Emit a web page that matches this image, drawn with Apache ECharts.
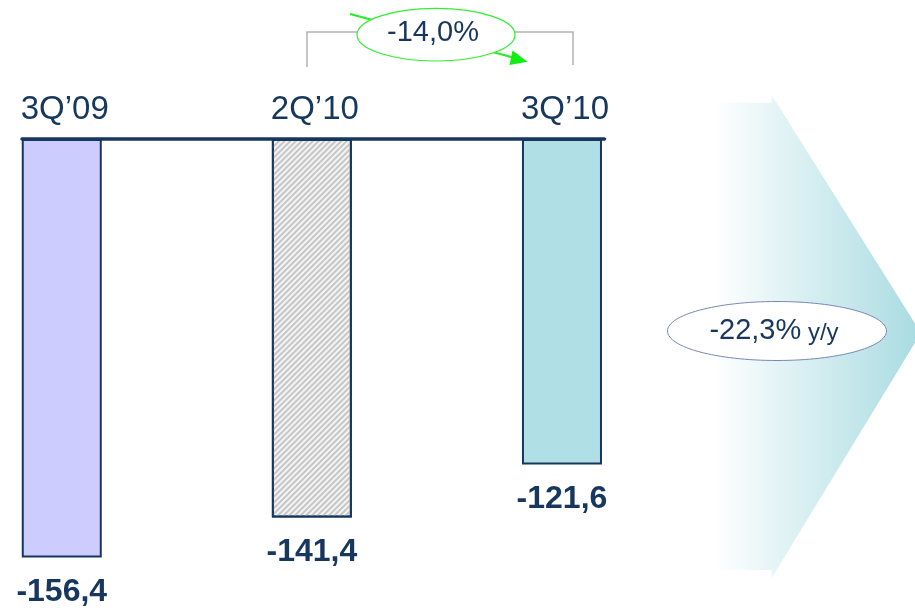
<!DOCTYPE html>
<html>
<head>
<meta charset="utf-8">
<script src="https://cdn.jsdelivr.net/npm/echarts@6/dist/echarts.min.js"></script>
<style>
  html, body { margin: 0; padding: 0; background: #ffffff; }
  #chart { width: 915px; height: 610px; }
</style>
</head>
<body>
<div id="chart"></div>
<script>
// Quarterly result (negative values hang down from the zero line)
const categories = ['3Q\u201909', '2Q\u201910', '3Q\u201910'];
const values = [-156.4, -141.4, -121.6];
const changeQoQ = '-14,0%';
const changeYoY = '-22,3%';
const changeYoYSuffix = ' y/y';

const NAVY = '#17375e';
const FONT = '"Liberation Sans", Arial, sans-serif';

// per-bar fill styles
const barStyles = [
  { color: '#ccccff' },
  {
    color: '#f4f4f4',
    decal: {
      symbol: 'rect',
      symbolSize: 1,
      color: '#c6c6c6',
      dashArrayX: [1, 0],
      dashArrayY: [2, 2],
      rotation: -Math.PI / 4
    }
  },
  { color: '#b0dfe5' }
];

const fmt = v => v.toFixed(1).replace('.', ',');

const chart = echarts.init(document.getElementById('chart'), null, { renderer: 'canvas' });

const option = {
  backgroundColor: '#ffffff',
  animation: false,
  textStyle: { fontFamily: FONT },
  grid: { left: 22, top: 139, width: 582.5, height: 455 },
  xAxis: {
    type: 'value',
    position: 'top',
    min: -0.159,
    max: 2.17,
    z: 5,
    splitLine: { show: false },
    axisTick: { show: false },
    axisLine: { show: true, onZero: false, lineStyle: { color: NAVY, width: 3.5 } },
    axisLabel: {
      customValues: [0, 1, 2],
      formatter: v => categories[Math.round(v)] || '',
      color: NAVY,
      fontSize: 33,
      fontFamily: FONT,
      margin: 13,
      padding: [0, 0, 0, 6]
    }
  },
  yAxis: {
    type: 'value',
    min: -170,
    max: 0,
    show: false
  },
  series: [
    {
      type: 'bar',
      barWidth: 80,
      data: values.map((v, i) => ({
        value: [i, v],
        itemStyle: Object.assign({ borderColor: NAVY, borderWidth: 2 }, barStyles[i])
      })),
      label: {
        show: true,
        position: 'bottom',
        distance: 19,
        color: NAVY,
        fontSize: 32,
        fontWeight: 'bold',
        fontFamily: FONT,
        formatter: p => fmt(p.value[1])
      }
    }
  ],
  graphic: [
    // big chevron arrow on the right
    {
      type: 'polygon',
      z: 1,
      shape: {
        points: [[690, 102.7], [771.7, 102.7], [771.7, 95], [921, 333],
                 [771.7, 578], [771.7, 570], [690, 570]]
      },
      style: {
        fill: new echarts.graphic.LinearGradient(0, 0, 1, 0, [
          { offset: 0, color: '#ffffff' },
          { offset: 0.1, color: '#ffffff' },
          { offset: 1, color: '#a8dbe1' }
        ])
      }
    },
    {
      type: 'ellipse',
      z: 2,
      shape: { cx: 777, cy: 331, rx: 109.5, ry: 29.5 },
      style: { fill: '#ffffff', stroke: '#7b86b6', lineWidth: 1 }
    },
    {
      type: 'text',
      z: 3,
      x: 774,
      y: 331,
      style: {
        text: '{a|' + changeYoY + '}{b|' + changeYoYSuffix + '}',
        align: 'center',
        verticalAlign: 'middle',
        rich: {
          a: { fontSize: 29, fontFamily: FONT, fill: NAVY, color: NAVY },
          b: { fontSize: 24, fontFamily: FONT, fill: NAVY, color: NAVY, padding: [4, 0, 0, 0] }
        }
      }
    },
    // bracket between 2Q'10 and 3Q'10
    {
      type: 'polyline',
      z: 1,
      shape: { points: [[307, 67], [307, 32], [573, 32], [573, 65]] },
      style: { stroke: '#b3b3b3', lineWidth: 1.5, fill: null }
    },
    {
      type: 'line',
      z: 2,
      shape: { x1: 350, y1: 14, x2: 514, y2: 57.8 },
      style: { stroke: '#22ee22', lineWidth: 2 }
    },
    {
      type: 'polygon',
      z: 4,
      shape: { points: [[512.5, 50.5], [527.5, 61.7], [509.5, 65]] },
      style: { fill: '#11ee11' }
    },
    {
      type: 'ellipse',
      z: 3,
      shape: { cx: 436, cy: 34.7, rx: 79, ry: 26.3 },
      style: { fill: '#ffffff', stroke: '#33ee33', lineWidth: 1.2 }
    },
    {
      type: 'text',
      z: 4,
      x: 433,
      y: 33,
      style: {
        text: changeQoQ,
        align: 'center',
        verticalAlign: 'middle',
        fontSize: 29,
        fontFamily: FONT,
        fill: NAVY
      }
    }
  ]
};

chart.setOption(option);
</script>
</body>
</html>
